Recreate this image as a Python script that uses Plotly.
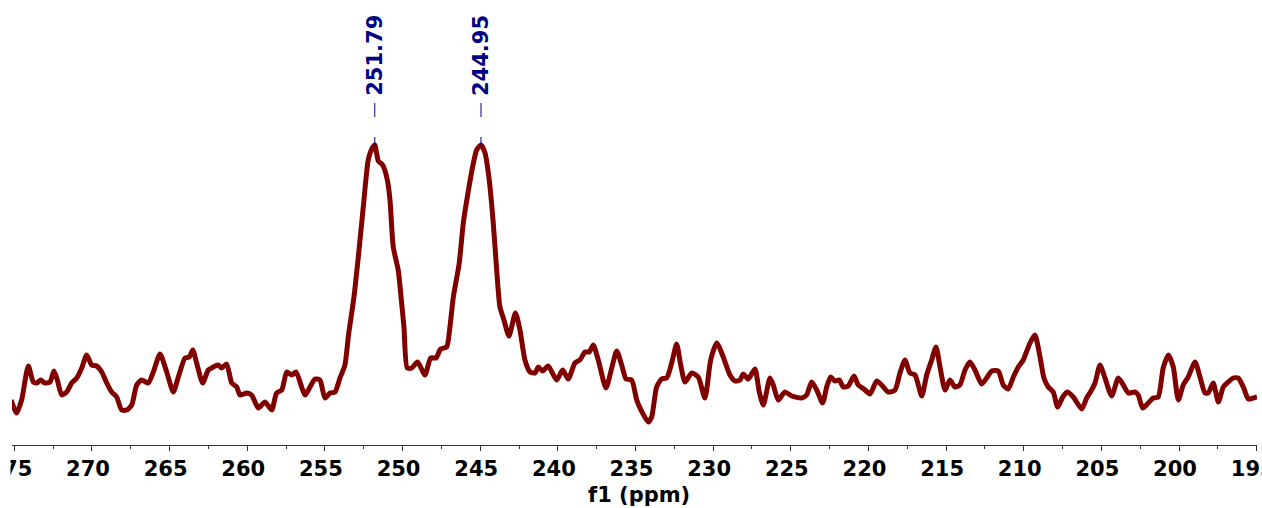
import plotly.graph_objects as go

# Chemical shift (ppm) and intensity (arbitrary units)
ppm = [275.21, 274.85, 274.53, 274.10, 273.78, 273.56, 273.30, 273.03, 272.70, 272.45,
       272.23, 271.95, 271.63, 271.31, 270.98, 270.66, 270.34, 270.02, 269.70, 269.37,
       269.05, 268.73, 268.41, 268.09, 267.76, 267.44, 267.12, 266.80, 266.37, 266.05,
       265.62, 265.19, 264.76, 264.44, 264.01, 263.73, 263.51, 263.26, 262.87, 262.51,
       262.19, 261.87, 261.65, 261.33, 261.00, 260.68, 260.47, 260.04, 259.72, 259.29,
       258.86, 258.43, 258.11, 257.78, 257.46, 257.14, 256.86, 256.28, 255.96, 255.64,
       255.32, 255.00, 254.67, 254.35, 254.03, 253.71, 253.48, 253.13, 252.85, 252.53,
       252.21, 251.95, 251.79, 251.56, 251.28, 250.98, 250.81, 250.60, 250.28, 250.06,
       249.91, 249.70, 249.41, 249.03, 248.56, 248.19, 247.85, 247.55, 247.16, 246.95,
       246.73, 246.35, 246.09, 245.83, 245.49, 245.23, 244.95, 244.69, 244.42, 244.16,
       243.94, 243.73, 243.47, 243.15, 242.73, 242.44, 242.12, 241.79, 241.47, 241.26,
       240.98, 240.62, 240.08, 239.69, 239.33, 238.90, 238.58, 238.25, 237.98, 237.72,
       237.40, 236.90, 236.53, 236.21, 235.89, 235.61, 235.25, 234.92, 234.65, 234.18,
       233.96, 233.64, 233.32, 232.99, 232.67, 232.35, 232.09, 231.81, 231.38, 230.96,
       230.53, 230.16, 229.77, 229.35, 228.92, 228.59, 228.27, 228.06, 227.74, 227.31,
       227.03, 226.77, 226.34, 226.13, 225.81, 225.38, 224.94, 224.30, 223.98, 223.66,
       223.33, 222.95, 222.69, 222.43, 222.16, 221.88, 221.62, 221.30, 220.93, 220.66,
       220.29, 219.90, 219.47, 219.15, 218.72, 218.29, 217.97, 217.65, 217.33, 217.00,
       216.57, 216.25, 215.93, 215.65, 215.39, 215.07, 214.75, 214.43, 214.11, 213.78,
       213.46, 213.14, 212.71, 212.39, 212.06, 211.64, 211.32, 211.00, 210.67, 210.35,
       210.03, 209.60, 209.28, 208.95, 208.70, 208.42, 208.10, 207.82, 207.49, 207.20,
       206.81, 206.27, 205.95, 205.63, 205.41, 205.09, 204.77, 204.34, 203.91, 203.59,
       203.27, 202.84, 202.63, 202.34, 201.98, 201.66, 201.34, 201.02, 200.69, 200.37,
       200.05, 199.73, 199.41, 198.97, 198.65, 198.33, 198.12, 197.80, 197.47, 197.15,
       196.83, 196.51, 196.19, 195.86, 195.54, 195.22, 194.98]

intensity = [45, 32, 45, 79, 63, 62, 65, 62, 63, 74,
             65, 50, 53, 62, 67, 77, 90, 80, 79, 73,
             62, 53, 48, 35, 35, 40, 60, 65, 62, 73,
             91, 73, 53, 68, 87, 88, 95, 82, 62, 75,
             78, 80, 77, 81, 62, 58, 50, 52, 50, 37,
             43, 35, 52, 55, 73, 70, 73, 50, 58, 66,
             65, 47, 52, 53, 67, 80, 110, 148, 188, 238,
             285, 297, 300, 284, 280, 265, 245, 198, 175, 142,
             118, 77, 77, 83, 70, 87, 87, 96, 98, 118,
             148, 182, 222, 248, 278, 295, 300, 292, 265, 222,
             175, 138, 125, 109, 132, 115, 85, 73, 72, 78,
             74, 79, 65, 75, 66, 82, 85, 93, 93, 100,
             85, 57, 77, 94, 80, 66, 65, 45, 35, 23,
             28, 58, 66, 67, 82, 101, 80, 63, 72, 68,
             47, 85, 102, 88, 70, 64, 65, 71, 66, 76,
             53, 40, 67, 60, 45, 53, 49, 47, 50, 63,
             55, 42, 58, 68, 64, 65, 58, 59, 69, 60,
             56, 51, 64, 60, 53, 55, 72, 85, 72, 70,
             49, 70, 85, 98, 78, 55, 65, 58, 60, 75,
             83, 75, 61, 67, 74, 74, 60, 56, 68, 78,
             85, 102, 110, 88, 67, 58, 53, 38, 48, 53,
             48, 36, 47, 55, 62, 80, 67, 49, 67, 60,
             52, 53, 50, 37, 42, 47, 48, 77, 90, 78,
             45, 60, 68, 83, 68, 52, 52, 62, 43, 58,
             63, 67, 67, 58, 46, 47, 48]

peak_ppm = [251.79, 244.95]
peak_labels = ["251.79", "244.95"]

tick_vals = [275, 270, 265, 260, 255, 250, 245, 240, 235, 230, 225, 220, 215, 210, 205, 200, 195]
tick_text = [str(v) for v in tick_vals]
x_title = "f1 (ppm)"

fig = go.Figure()
fig.add_trace(go.Scatter(
    x=ppm, y=intensity, mode="lines",
    line=dict(color="#800000", width=5, shape="spline", smoothing=0.6),
    hoverinfo="skip", showlegend=False,
))

navy = "#000080"
for p, lab in zip(peak_ppm, peak_labels):
    fig.add_annotation(
        x=p, y=390, xref="x", yref="y", text=lab, textangle=-90,
        showarrow=False, font=dict(family="DejaVu Sans", size=21, color=navy, weight="bold"),
    )
    fig.add_shape(type="line", xref="x", yref="y", x0=p, x1=p, y0=328, y1=342,
                  line=dict(color=navy, width=1))
    fig.add_shape(type="line", xref="x", yref="y", x0=p, x1=p, y0=299, y1=308,
                  line=dict(color=navy, width=1))

# axis title (shifted slightly right, as in the reference)
fig.add_annotation(
    x=0.5, y=-0.112, xref="paper", yref="paper", xshift=4, text=x_title, showarrow=False,
    yanchor="middle", font=dict(family="DejaVu Sans", size=21, color="black", weight="bold"),
)

# clip tick labels to the left of the axis start
fig.add_shape(type="rect", xref="paper", yref="paper", x0=-0.011, x1=-0.0012,
              y0=-0.09, y1=-0.02, fillcolor="white", line=dict(width=0), layer="above")

fig.update_layout(
    width=1262, height=508,
    margin=dict(l=12, r=5, t=0, b=63, autoexpand=False),
    paper_bgcolor="white", plot_bgcolor="white",
    xaxis=dict(
        range=[275.15, 194.98], tickvals=tick_vals, ticktext=tick_text,
        ticklabeloverflow="allow", automargin=False, ticklabelshift=4,
        ticks="outside", ticklen=5, tickcolor="#333", tickwidth=1,
        minor=dict(dtick=2.5, tick0=0, ticks="outside", ticklen=3, tickcolor="#333"),
        showline=True, linecolor="#333", linewidth=1, showgrid=False, zeroline=False,
        tickfont=dict(family="DejaVu Sans", size=21, color="black", weight="bold"),
    ),
    yaxis=dict(range=[0, 445], visible=False, showgrid=False, zeroline=False),
)

fig.write_html("out.html")
